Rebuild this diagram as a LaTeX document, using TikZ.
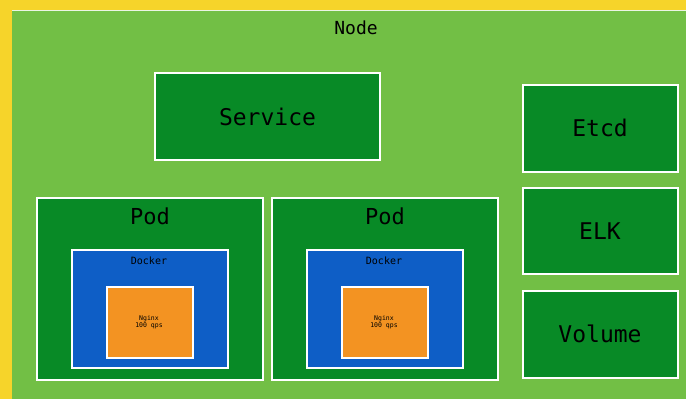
\documentclass[tikz,border=0pt]{standalone}
\usepackage{fontspec}
\setmonofont{DejaVu Sans Mono}
\definecolor{yel}{HTML}{F6D42A}
\definecolor{lgreen}{HTML}{72BF45}
\definecolor{dgreen}{HTML}{088A26}
\definecolor{dblue}{HTML}{0E5EC6}
\definecolor{orng}{HTML}{F39322}
\begin{document}
\begin{tikzpicture}[x=1pt,y=-1pt,
  box/.style={draw=white,line width=1.6pt,inner sep=0pt,outer sep=0pt},
  gbox/.style={box,fill=dgreen},
  lbl/.style={font=\ttfamily,text=black,inner sep=0pt}]
\useasboundingbox (0,0) rectangle (686,399);
\fill[yel] (0,0) rectangle (686,399);
\fill[lgreen] (12,10) rectangle (690,403);
\draw[white!85!lgreen,line width=1pt] (12,10.5) -- (690,10.5);
\node[lbl,font=\ttfamily\fontsize{18}{20}\selectfont] (nodelbl) at (356,28) {Node};
% service
\draw[gbox] (155,73) rectangle (380,160);
\node[lbl,font=\ttfamily\fontsize{23}{26}\selectfont] (svc) at (267.5,117) {Service};
% right column
\draw[gbox] (523,85) rectangle (678,172);
\node[lbl,font=\ttfamily\fontsize{23}{26}\selectfont] (etcd) at (600,128) {Etcd};
\draw[gbox] (523,188) rectangle (678,274);
\node[lbl,font=\ttfamily\fontsize{23}{26}\selectfont] (elk) at (600,231) {ELK};
\draw[gbox] (523,291) rectangle (678,378);
\node[lbl,font=\ttfamily\fontsize{23}{26}\selectfont] (vol) at (600,334) {Volume};
% pods
\foreach \dx/\n in {0/a,235/b}{
  \begin{scope}[xshift=\dx]
  \draw[gbox] (37,198) rectangle (263,380);
  \node[lbl,font=\ttfamily\fontsize{22}{24}\selectfont] (pod\n) at (150,216) {Pod};
  \draw[box,fill=dblue] (72,250) rectangle (228,368);
  \node[lbl,font=\ttfamily\fontsize{10}{12}\selectfont] (dock\n) at (149,261) {Docker};
  \draw[box,fill=orng] (107,287) rectangle (193,358);
  \node[lbl,font=\ttfamily\fontsize{6.5}{7.5}\selectfont,align=center] (app\n) at (149,322) {Nginx\\100 qps};
  \end{scope}
}
\end{tikzpicture}
\end{document}
